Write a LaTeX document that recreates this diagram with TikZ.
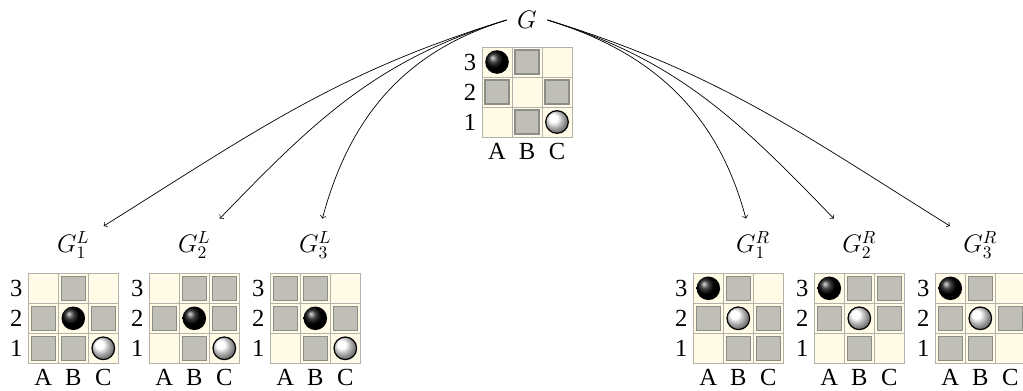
\documentclass[tikz,border=0pt]{standalone}
\usepackage{fontspec}
\newfontfamily\boardfont{Liberation Serif}

\definecolor{boardbg}{RGB}{255,251,231}
\definecolor{gridgray}{RGB}{178,178,170}
\definecolor{blockfill}{RGB}{191,191,183}
\definecolor{blockedge}{RGB}{140,140,136}

% #1 name, #2 #3 lower left corner, #4 blocked cells, #5 black stone, #6 white stone
\newcommand*{\gameboard}[6]{%
	\begin{scope}[shift={(#2,#3)}]
		\foreach \i in {0,1,2}
			\foreach \j in {0,1,2}
				\draw[gridgray,fill=boardbg] (30*\i,30*\j) rectangle ++(30,30);
		\foreach \i/\j in {#4}
			\draw[blocked] (30*\i+3,30*\j+3) rectangle ++(24,24);
		\foreach \i/\j in {#5}
			\shade[ball color=black] (30*\i+15,30*\j+15) circle (11.8);
		\foreach \i/\j in {#6}
			\shadedraw[ball color=white,draw=black,line width=0.7pt] (30*\i+15,30*\j+15) circle (11.3);
		\node[coord] (#1-A) at (15,-14) {A};
		\node[coord] (#1-B) at (45,-14) {B};
		\node[coord] (#1-C) at (75,-14) {C};
		\node[coord] (#1-1) at (-12,15) {1};
		\node[coord] (#1-2) at (-12,45) {2};
		\node[coord] (#1-3) at (-12,75) {3};
	\end{scope}
}

\begin{document}
\begin{tikzpicture}
[
	x=0.02cm,
	y=0.02cm,
	game/.style={minimum width=1.2cm,minimum height=1.04cm,inner sep=0pt,font=\Large},
	coord/.style={inner sep=0pt,font=\boardfont\fontsize{14}{14}\selectfont},
	blocked/.style={draw=blockedge,fill=blockfill,line width=0.85pt}
]
	\useasboundingbox (0,0) rectangle (1023,390);

	% boards
	\gameboard{g}{482}{253}{1/2,0/1,2/1,1/0}{0/2}{2/0}

	\gameboard{l1}{28.3}{26.7}{1/2,0/1,2/1,0/0,1/0}{1/1}{2/0}
	\gameboard{l2}{149.3}{26.7}{1/2,2/2,0/1,2/1,1/0}{1/1}{2/0}
	\gameboard{l3}{270.3}{26.7}{0/2,1/2,0/1,2/1,1/0}{1/1}{2/0}

	\gameboard{r1}{693.3}{26.7}{1/2,0/1,2/1,1/0,2/0}{0/2}{1/1}
	\gameboard{r2}{814.3}{26.7}{1/2,2/2,0/1,2/1,1/0}{0/2}{1/1}
	\gameboard{r3}{935.3}{26.7}{1/2,0/1,2/1,0/0,1/0}{0/2}{1/1}

	% labels
	\node[minimum width=0.8cm,font=\Large] (G) at (527,370) {$G$};

	\node[game] (gl1) at (73.3,145) {$G_1^L$};
	\node[game] (gl2) at (194.3,145) {$G_2^L$};
	\node[game] (gl3) at (315.3,145) {$G_3^L$};

	\node[game] (gr1) at (753,145) {$G_1^R$};
	\node[game] (gr2) at (859.3,145) {$G_2^R$};
	\node[game] (gr3) at (980.3,145) {$G_3^R$};

	% moves
	\draw[->] (G.west) to[out=197,in=32] (gl1);
	\draw[->] (G.west) to[out=197,in=46] (gl2);
	\draw[->] (G.west) to[out=197,in=75] (gl3);

	\draw[->] (G.east) to[out=-17,in=105] (gr1);
	\draw[->] (G.east) to[out=-17,in=134] (gr2);
	\draw[->] (G.east) to[out=-17,in=148] (gr3);

\end{tikzpicture}
\end{document}
